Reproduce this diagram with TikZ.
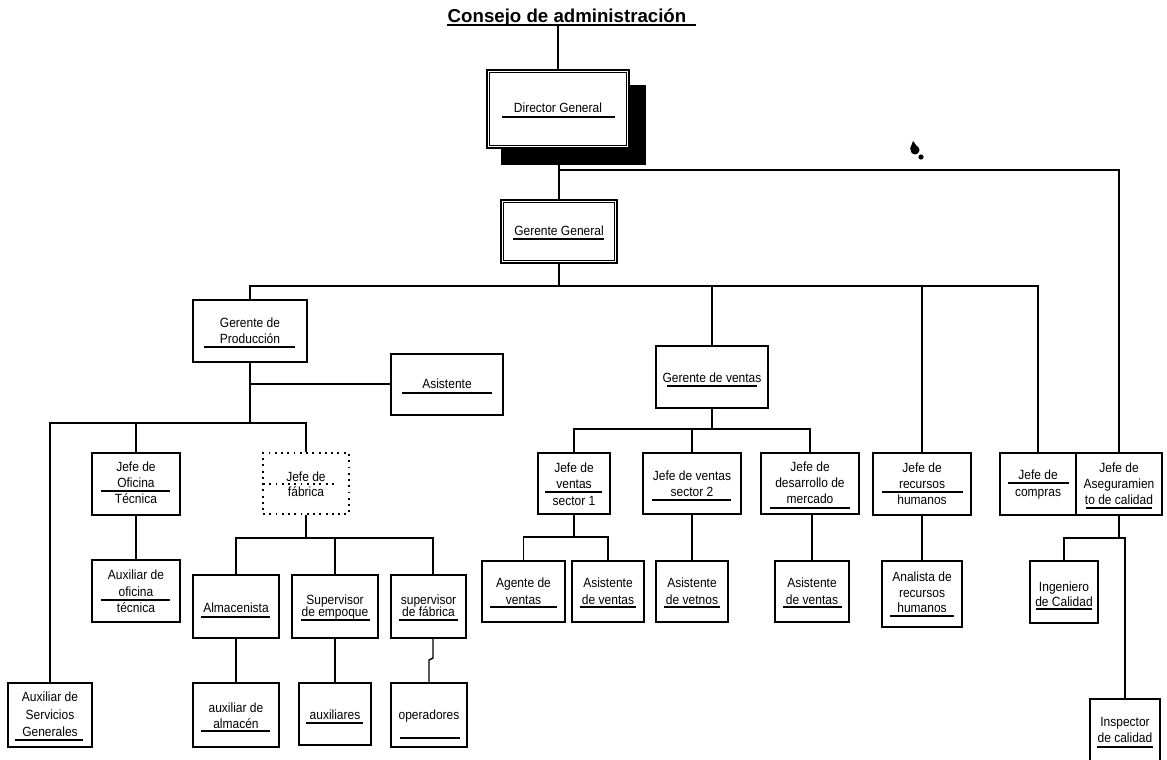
\documentclass[tikz,border=0pt]{standalone}
\usepackage{fontspec}
\setmainfont{Liberation Sans}
\newfontfamily\boxfont{Liberation Sans}[FakeStretch=0.9]
\usetikzlibrary{fit,calc}
\pgfdeclarelayer{paper}
\pgfdeclarelayer{bg}
\pgfsetlayers{paper,bg,main}
\newcommand\lblfont{\boxfont\fontsize{10}{11}\selectfont}
% one line of text inside a box: name, x, vertical centre, text
\newcommand\bline[4]{\node[lbl] (#1) at (#2,#3+4.5) {#4};}
\tikzset{
  orgbox/.style={draw, line width=1.1pt, fill=white, inner sep=0pt, rectangle},
  dotbox/.style={draw, line width=1.4pt, dash pattern=on 1.4pt off 3.3pt, fill=white, inner sep=0pt, rectangle},
  conn/.style={line width=1.05pt},
  lbl/.style={font=\lblfont, inner sep=0pt, anchor=base},
  uline/.style={line width=0.9pt},
}
\begin{document}
\begin{tikzpicture}[x=0.75pt,y=-0.75pt]
\begin{pgfonlayer}{paper}
\fill[white] (0,0) rectangle (1167,760);
\end{pgfonlayer}
\useasboundingbox (0,0) rectangle (1167,760);

% title
\node[font=\bfseries\fontsize{14}{16}\selectfont, inner sep=0pt, anchor=base] (title) at (567,22) {Consejo de administración};
\draw[uline] (447,25) -- (696,25);
\coordinate (ttl) at (558,25);

% ---------- boxes ----------
\node[orgbox, fit={(487,70) (629,148)}] (dir) {};
\node[orgbox, fit={(501,200) (617,263)}] (gg) {};
\node[orgbox, fit={(193,300) (307,362)}] (gp) {};
\node[orgbox, fit={(391,354) (503,415)}] (asis) {};
\node[orgbox, fit={(92,453) (180,515)}] (jot) {};
\node[dotbox, fit={(263,453) (349,514)}] (jf) {};
\node[orgbox, fit={(92,560) (180,622)}] (aot) {};
\node[orgbox, fit={(193,575) (279,638)}] (alm) {};
\node[orgbox, fit={(292,575) (378,638)}] (sem) {};
\node[orgbox, fit={(391,575) (466,638)}] (sfa) {};
\node[orgbox, fit={(193,683) (279,747)}] (aal) {};
\node[orgbox, fit={(299,683) (371,745)}] (aux) {};
\node[orgbox, fit={(391,683) (467,747)}] (ope) {};
\node[orgbox, fit={(8,683) (92,747)}] (asg) {};
\node[orgbox, fit={(656,346) (768,408)}] (gv) {};
\node[orgbox, fit={(538,453) (610,514)}] (jv1) {};
\node[orgbox, fit={(643,453) (741,514)}] (jv2) {};
\node[orgbox, fit={(761,453) (859,514)}] (jdm) {};
\node[orgbox, fit={(873,453) (971,515)}] (jrh) {};
\node[orgbox, fit={(1000,453) (1076,515)}] (jc) {};
\node[orgbox, fit={(1076,453) (1162,515)}] (jac) {};
\node[orgbox, fit={(482,561) (565,622)}] (age) {};
\node[orgbox, fit={(572,561) (644,622)}] (asv1) {};
\node[orgbox, fit={(656,561) (728,622)}] (asv2) {};
\node[orgbox, fit={(775,561) (849,622)}] (asv3) {};
\node[orgbox, fit={(882,561) (962,627)}] (arh) {};
\node[orgbox, fit={(1030,561) (1098,623)}] (ing) {};
\node[orgbox, fit={(1090,699) (1160,763)}] (ins) {};

% inner frames of the two top boxes
\draw[line width=0.7pt] ($(dir.south west)+(3.5,-3.5)$) rectangle ($(dir.north east)+(-3.5,3.5)$);
\draw[line width=0.7pt] ($(gg.south west)+(3.5,-3.5)$) rectangle ($(gg.north east)+(-3.5,3.5)$);

% ---------- texts and underlines ----------
\bline{dir-a}{558}{108}{Director General}
\draw[uline] (502,117) -- (615,117);
\bline{gg-a}{559}{231}{Gerente General}
\draw[uline] (513,239) -- (604,239);
\bline{gp-a}{250}{323}{Gerente de}
\bline{gp-b}{250}{339}{Producción}
\draw[uline] (204,347) -- (295,347);
\bline{asis-a}{447}{384}{Asistente}
\draw[uline] (402,393) -- (492,393);
\bline{jot-a}{136}{467}{Jefe de}
\bline{jot-b}{136}{483}{Oficina}
\draw[uline] (101,491) -- (170,491);
\bline{jot-c}{136}{499}{Técnica}
\bline{jf-a}{306}{477}{Jefe de}
\draw[line width=1.4pt, dash pattern=on 1.4pt off 3.3pt] (263,484) -- (336,484);
\bline{jf-b}{306}{492}{fábrica}
\bline{aot-a}{136}{575}{Auxiliar de}
\bline{aot-b}{136}{592}{oficina}
\draw[uline] (101,600) -- (170,600);
\bline{aot-c}{136}{608}{técnica}
\bline{alm-a}{236}{608}{Almacenista}
\draw[uline] (201,617) -- (270,617);
\bline{sem-a}{335}{600}{Supervisor}
\bline{sem-b}{335}{612}{de empoque}
\draw[uline] (301,620) -- (370,620);
\bline{sfa-a}{428.5}{600}{supervisor}
\bline{sfa-b}{428.5}{612}{de fábrica}
\draw[uline] (399,620) -- (458,620);
\bline{aal-a}{236}{708}{auxiliar de}
\bline{aal-b}{236}{724}{almacén}
\draw[uline] (201,731) -- (270,731);
\bline{aux-a}{335}{715}{auxiliares}
\draw[uline] (306,723) -- (363,723);
\bline{ope-a}{429}{715}{operadores}
\draw[uline] (400,738) -- (460,738);
\bline{asg-a}{50}{697}{Auxiliar de}
\bline{asg-b}{50}{715}{Servicios}
\bline{asg-c}{50}{732}{Generales}
\draw[uline] (15,740) -- (83,740);
\bline{gv-a}{712}{378}{Gerente de ventas}
\draw[uline] (667,386) -- (757,386);
\bline{jv1-a}{574}{468}{Jefe de}
\bline{jv1-b}{574}{484}{ventas}
\draw[uline] (545,492) -- (602,492);
\bline{jv1-c}{574}{501}{sector 1}
\bline{jv2-a}{692}{476}{Jefe de ventas}
\bline{jv2-b}{692}{492}{sector 2}
\draw[uline] (652,500) -- (731,500);
\bline{jdm-a}{810}{467}{Jefe de}
\bline{jdm-b}{810}{483}{desarrollo de}
\bline{jdm-c}{810}{499}{mercado}
\draw[uline] (770,508) -- (850,508);
\bline{jrh-a}{922}{468}{Jefe de}
\bline{jrh-b}{922}{484}{recursos}
\draw[uline] (882,492) -- (963,492);
\bline{jrh-c}{922}{500}{humanos}
\bline{jc-a}{1038}{475}{Jefe de}
\draw[uline] (1008,483) -- (1069,483);
\bline{jc-b}{1038}{492}{compras}
\bline{jac-a}{1119}{468}{Jefe de}
\bline{jac-b}{1119}{484}{Aseguramien}
\bline{jac-c}{1119}{500}{to de calidad}
\draw[uline] (1086,508) -- (1152,508);
\bline{age-a}{523.5}{583}{Agente de}
\bline{age-b}{523.5}{600}{ventas}
\draw[uline] (490,607) -- (557,607);
\bline{asv1-a}{608}{583}{Asistente}
\bline{asv1-b}{608}{600}{de ventas}
\draw[uline] (580,607) -- (636,607);
\bline{asv2-a}{692}{583}{Asistente}
\bline{asv2-b}{692}{600}{de vetnos}
\draw[uline] (664,607) -- (720,607);
\bline{asv3-a}{812}{583}{Asistente}
\bline{asv3-b}{812}{600}{de ventas}
\draw[uline] (783,607) -- (842,607);
\bline{arh-a}{922}{577}{Analista de}
\bline{arh-b}{922}{593}{recursos}
\bline{arh-c}{922}{608}{humanos}
\draw[uline] (890,616) -- (954,616);
\bline{ing-a}{1064}{587}{Ingeniero}
\bline{ing-b}{1064}{602}{de Calidad}
\draw[uline] (1036,609) -- (1092,609);
\bline{ins-a}{1125}{722}{Inspector}
\bline{ins-b}{1125}{738}{de calidad}
\draw[uline] (1097,747) -- (1153,747);

% ---------- connectors ----------
\begin{pgfonlayer}{bg}
\draw[conn] (dir.north) -- (dir.north |- ttl);
\draw[conn] (gg.north) -- (gg.north |- dir.south);
\coordinate (b1) at (558,170);
\draw[conn] (b1) -| (jac.north);

\coordinate (bar1) at (559,286);
\draw[conn] (gg.south) -- (bar1);
\draw[conn] (gp.north) |- (jc.north |- bar1) -- (jc.north);
\draw[conn] (gv.north) -- (gv.north |- bar1);
\draw[conn] (jrh.north) -- (jrh.north |- bar1);

% production branch
\coordinate (gpA) at (250,384);
\coordinate (gpB) at (250,423);
\draw[conn] (gp.south) -- (gpB);
\draw[conn] (gpA) -- (gpA -| asis.west);
\draw[conn] (asg.north) |- (jf.north |- gpB) -- (jf.north);
\draw[conn] (jot.north) -- (jot.north |- gpB);
\draw[conn] (aot.north) -- (aot.north |- jot.south);
\coordinate (jfB) at (306,538);
\coordinate (sfaT) at (433,575);
\draw[conn] (jf.south) -- (jfB);
\draw[conn] (alm.north) |- (sfaT |- jfB) -- (sfaT);
\draw[conn] (sem.north) -- (sem.north |- jfB);
\draw[conn] (aal.north) -- (aal.north |- alm.south);
\draw[conn] (aux.north) -- (aux.north |- sem.south);
\coordinate (sfaB) at (433,638);
\draw[conn] (sfaB) -- ++(0,20) -- ++(-4,2) -- (ope.north);

% sales branch
\coordinate (gvB) at (712,429);
\draw[conn] (gv.south) -- (gvB);
\draw[conn] (jv1.north) |- (jdm.north |- gvB) -- (jdm.north);
\draw[conn] (jv2.north) -- (jv2.north |- gvB);
\coordinate (jv1B) at (574,537);
\draw[conn] (jv1.south) -- (jv1B);
\draw[conn] (age.north) |- (asv1.north |- jv1B) -- (asv1.north);
\draw[conn] (asv2.north) -- (asv2.north |- jv2.south);
\draw[conn] (asv3.north) -- (asv3.north |- jdm.south);
\draw[conn] (arh.north) -- (arh.north |- jrh.south);

% quality branch
\coordinate (jacB) at (1119,538);
\draw[conn] (jac.south) -- (jacB);
\draw[conn] (ing.north) |- (ins.north |- jacB) -- (ins.north);

% shadow of the top box
\fill ($(dir.south west)+(15,16)$) rectangle ($(dir.north east)+(16,16)$);
\end{pgfonlayer}

% ink blot above the right branch
\fill (915,150) circle (4.5);
\fill (921,157) circle (2.6);
\fill (913,141) -- (910,149) -- (919,149) -- cycle;
\end{tikzpicture}
\end{document}
